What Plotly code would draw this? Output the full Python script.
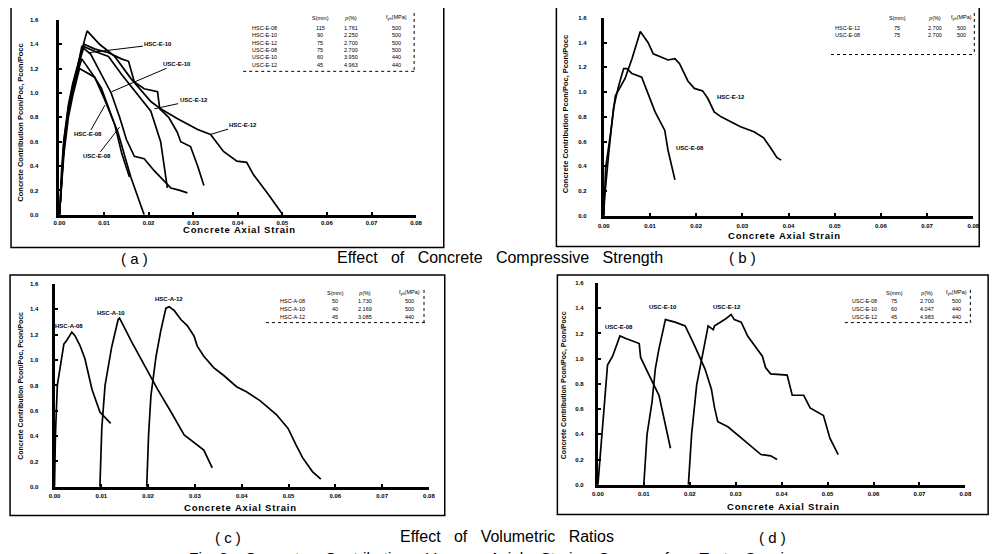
import plotly.graph_objects as go

W, H = 997, 554
OFF = 8  # page body margin offset

# ---------------- data ----------------
x_ticks = [0.00, 0.01, 0.02, 0.03, 0.04, 0.05, 0.06, 0.07, 0.08]
y_ticks = [0.0, 0.2, 0.4, 0.6, 0.8, 1.0, 1.2, 1.4, 1.6]

# (a) Effect of concrete compressive strength
a_c1_x = [0, 0.0005, 0.001, 0.002, 0.003, 0.004, 0.005, 0.0062, 0.009, 0.0124, 0.016, 0.0205, 0.0227, 0.0264, 0.031, 0.0339, 0.0368, 0.0398, 0.042, 0.0435, 0.047, 0.0501]
a_c1_y = [0, 0.38, 0.62, 0.9, 1.08, 1.22, 1.36, 1.51, 1.40, 1.30, 1.12, 0.93, 0.87, 0.79, 0.70, 0.66, 0.52, 0.44, 0.43, 0.33, 0.16, 0.0]
a_c2_x = [0, 0.0005, 0.001, 0.002, 0.003, 0.004, 0.0055, 0.008, 0.011, 0.0139, 0.0155, 0.0168, 0.019, 0.022, 0.0225, 0.0245, 0.0264, 0.0272, 0.0294, 0.031, 0.0324]
a_c2_y = [0, 0.33, 0.58, 0.86, 1.04, 1.2, 1.40, 1.36, 1.33, 1.28, 1.26, 1.09, 1.035, 1.01, 0.87, 0.80, 0.68, 0.60, 0.56, 0.40, 0.24]
a_c3_x = [0, 0.0005, 0.001, 0.002, 0.003, 0.004, 0.005, 0.007, 0.0095, 0.0116, 0.0135, 0.015, 0.0168, 0.019, 0.0213, 0.025, 0.027, 0.0287]
a_c3_y = [0, 0.3, 0.55, 0.84, 1.02, 1.18, 1.38, 1.32, 1.15, 1.0, 0.80, 0.62, 0.48, 0.46, 0.36, 0.22, 0.20, 0.18]
a_c4_x = [0, 0.0005, 0.001, 0.002, 0.003, 0.004, 0.0055, 0.008, 0.011, 0.014, 0.0176, 0.0205, 0.0227, 0.0242]
a_c4_y = [0, 0.36, 0.6, 0.88, 1.06, 1.2, 1.38, 1.34, 1.30, 1.15, 0.98, 0.85, 0.60, 0.22]
a_c5_x = [0, 0.0005, 0.001, 0.002, 0.003, 0.0045, 0.0079, 0.0101, 0.0131, 0.016, 0.0175, 0.019]
a_c5_y = [0, 0.28, 0.5, 0.8, 0.98, 1.20, 1.13, 0.95, 0.68, 0.31, 0.15, 0.0]
a_c6_x = [0, 0.0005, 0.001, 0.002, 0.003, 0.004, 0.005, 0.0075, 0.0094, 0.0124, 0.014, 0.0157]
a_c6_y = [0, 0.32, 0.56, 0.85, 1.02, 1.16, 1.28, 1.15, 1.04, 0.74, 0.50, 0.31]

# (b)
b_hsc12_x = [0, 0.0004, 0.0014, 0.0025, 0.0046, 0.0061, 0.0079, 0.0096, 0.0107, 0.0129, 0.0139, 0.0154, 0.0164, 0.0182, 0.0196, 0.0214, 0.0225, 0.0239, 0.0254, 0.0275, 0.0296, 0.0325, 0.0346, 0.0361, 0.0375, 0.0384]
b_hsc12_y = [0, 0.39, 0.65, 0.97, 1.11, 1.27, 1.49, 1.40, 1.31, 1.28, 1.26, 1.27, 1.23, 1.09, 1.03, 1.01, 0.95, 0.84, 0.80, 0.76, 0.72, 0.68, 0.63, 0.55, 0.47, 0.45]
b_usc08_x = [0, 0.0001, 0.0011, 0.0021, 0.0032, 0.0043, 0.005, 0.0061, 0.0082, 0.0093, 0.0111, 0.0132, 0.0139, 0.0154]
b_usc08_y = [0, 0.12, 0.52, 0.87, 1.05, 1.19, 1.19, 1.15, 1.12, 1.01, 0.84, 0.69, 0.53, 0.29]

# (c) Effect of volumetric ratios
c_a08_x = [0, 0.0002, 0.0006, 0.002, 0.0027, 0.0037, 0.0044, 0.0055, 0.0065, 0.008, 0.0097, 0.0108, 0.012]
c_a08_y = [0, 0.41, 0.80, 1.125, 1.16, 1.22, 1.19, 1.11, 1.01, 0.77, 0.59, 0.55, 0.50]
c_a10_x = [0.0097, 0.0101, 0.0108, 0.0122, 0.0136, 0.0139, 0.0164, 0.0192, 0.022, 0.0249, 0.0277, 0.0319, 0.0337]
c_a10_y = [0, 0.46, 0.80, 1.10, 1.32, 1.33, 1.15, 0.96, 0.77, 0.59, 0.41, 0.29, 0.15]
c_a12_x = [0.0197, 0.0201, 0.0206, 0.0217, 0.0227, 0.0238, 0.0245, 0.0256, 0.027, 0.0284, 0.0298, 0.0305, 0.0319, 0.034, 0.0361, 0.0389, 0.041, 0.0439, 0.0474, 0.0499, 0.0516, 0.053, 0.0551, 0.0569]
c_a12_y = [0, 0.41, 0.72, 1.03, 1.23, 1.41, 1.42, 1.39, 1.32, 1.27, 1.19, 1.11, 1.03, 0.94, 0.88, 0.79, 0.75, 0.68, 0.57, 0.46, 0.33, 0.23, 0.12, 0.06]

# (d)
d_e08_x = [0, 0.0005, 0.0009, 0.0021, 0.0032, 0.0048, 0.0061, 0.009, 0.0093, 0.0104, 0.0118, 0.0133, 0.0143, 0.0154, 0.0158]
d_e08_y = [0, 0.24, 0.40, 0.95, 1.02, 1.18, 1.16, 1.12, 1.01, 0.92, 0.82, 0.71, 0.55, 0.35, 0.29]
d_e10_x = [0.01, 0.0107, 0.0118, 0.0125, 0.0133, 0.014, 0.0147, 0.0168, 0.019, 0.0211, 0.0233, 0.0247, 0.0254, 0.0261, 0.0283, 0.0319, 0.0355, 0.0376, 0.039]
d_e10_y = [0, 0.40, 0.66, 0.92, 1.08, 1.21, 1.31, 1.29, 1.26, 1.10, 0.92, 0.76, 0.61, 0.50, 0.46, 0.35, 0.24, 0.23, 0.20]
d_e12_x = [0.0197, 0.0204, 0.0215, 0.0226, 0.024, 0.0251, 0.0254, 0.0276, 0.0287, 0.029, 0.0297, 0.0312, 0.0326, 0.0347, 0.0358, 0.0365, 0.0376, 0.0412, 0.0423, 0.0448, 0.0462, 0.0491, 0.0505, 0.0516, 0.0523]
d_e12_y = [0, 0.40, 0.79, 1.0, 1.26, 1.23, 1.26, 1.31, 1.34, 1.35, 1.31, 1.29, 1.18, 1.08, 1.02, 0.93, 0.88, 0.87, 0.71, 0.71, 0.61, 0.55, 0.37, 0.29, 0.24]

# tables
tab_header = ["S(mm)", "ρ(%)", "f<sub>yh</sub>(MPa)"]
tab_a_names = ["HSC-E-08", "HSC-E-10", "HSC-E-12", "USC-E-08", "USC-E-10", "USC-E-12"]
tab_a_s = ["115", "90", "75", "75", "60", "45"]
tab_a_r = ["1.761", "2.250", "2.700", "2.700", "3.950", "4.963"]
tab_a_f = ["500", "500", "500", "500", "440", "440"]
tab_b_names = ["HSC-E-12", "USC-E-08"]
tab_b_s = ["75", "75"]
tab_b_r = ["2.700", "2.700"]
tab_b_f = ["500", "500"]
tab_c_names = ["HSC-A-08", "HSC-A-10", "HSC-A-12"]
tab_c_s = ["50", "40", "45"]
tab_c_r = ["1.730", "2.169", "3.085"]
tab_c_f = ["500", "500", "440"]
tab_d_names = ["USC-E-08", "USC-E-10", "USC-E-12"]
tab_d_s = ["75", "60", "45"]
tab_d_r = ["2.700", "4.047", "4.983"]
tab_d_f = ["500", "440", "440"]

# ---------------- figure ----------------
def fx(p):
    return (p - OFF) / W

def fy(p):
    return 1 - (p - OFF) / H

FONT = "Liberation Sans"
HS = "\u200a"  # hair space for letter-spaced axis titles
fig = go.Figure()

panels = [
    # suffix, x0, x1, ytop, ybot, ylabel standoff, xlabel standoff
    ("", 54, 415, 17, 214, 17, 0),
    ("2", 605, 979, 15, 215, 13, 2),
    ("3", 49, 428, 284, 489, 12, 1),
    ("4", 599, 971, 283, 487, 10, 1),
]
layout_axes = {}
for suf, x0, x1, yt, yb, ys, xs in panels:
    layout_axes["xaxis" + suf] = dict(
        domain=[fx(x0), fx(x1)], range=[0, 0.08], anchor="y" + suf,
        tickvals=x_ticks, ticktext=["%.2f" % v for v in x_ticks],
        showgrid=False, zeroline=False, showline=True, linecolor="black", linewidth=2.5,
        ticks="inside", ticklen=3, tickwidth=1.5, tickcolor="black",
        tickfont=dict(family=FONT, size=6, color="black", weight="bold"),
        ticklabelstandoff=xs,
    )
    layout_axes["yaxis" + suf] = dict(
        domain=[fy(yb), fy(yt)], range=[0, 1.6], anchor="x" + suf,
        tickvals=y_ticks, ticktext=["%.1f" % v for v in y_ticks],
        showgrid=False, zeroline=False, showline=True, linecolor="black", linewidth=3,
        ticks="inside", ticklen=3, tickwidth=1.5, tickcolor="black",
        tickfont=dict(family=FONT, size=6, color="black", weight="bold"),
        ticklabelstandoff=ys,
    )

curves = [
    ("", a_c1_x, a_c1_y), ("", a_c2_x, a_c2_y), ("", a_c3_x, a_c3_y),
    ("", a_c4_x, a_c4_y), ("", a_c5_x, a_c5_y), ("", a_c6_x, a_c6_y),
    ("2", b_hsc12_x, b_hsc12_y), ("2", b_usc08_x, b_usc08_y),
    ("3", c_a08_x, c_a08_y), ("3", c_a10_x, c_a10_y), ("3", c_a12_x, c_a12_y),
    ("4", d_e08_x, d_e08_y), ("4", d_e10_x, d_e10_y), ("4", d_e12_x, d_e12_y),
]
for suf, xs_, ys_ in curves:
    fig.add_trace(go.Scatter(x=xs_, y=ys_, mode="lines", xaxis="x" + suf, yaxis="y" + suf,
                             line=dict(color="black", width=1.7), showlegend=False, hoverinfo="skip"))

ann = []
shapes = []

def ptext(x, y, text, font, **kw):
    ann.append(dict(xref="paper", yref="paper", x=fx(x), y=fy(y), text=text, showarrow=False,
                    xanchor="center", yanchor="middle", font=font, **kw))

# panel borders
for x0, y0, x1, y1 in [(5, 4, 443, 247), (557, 3, 985, 246), (4, 275, 444, 518), (558, 275, 994, 517)]:
    shapes.append(dict(type="rect", xref="paper", yref="paper", x0=fx(x0), x1=fx(x1), y0=fy(y1), y1=fy(y0),
                       line=dict(color="black", width=1.5)))

# axis titles
xtitle = HS.join("Concrete Axial Strain")
ytitle = "Concrete Contribution Pcon/Poc, Pcon/Pocc"
for cx, cy, tx, ty, ysz in [(236, 229, 15, 121, 7.5), (787, 235, 567, 112, 7.5),
                            (237, 510, 15, 387, 7), (786, 509, 565, 386, 7)]:
    ptext(cx, cy, xtitle, dict(family=FONT, size=9.5, color="black", weight="bold"))
    ptext(tx, ty, ytitle, dict(family=FONT, size=ysz, color="black", weight="bold"), textangle=-90)

# curve labels
lab_font = dict(family=FONT, size=6, color="black", weight="bold")
def leader(suf, tx, ty, px_, py_, text):
    ann.append(dict(xref="x" + suf, yref="y" + suf, axref="x" + suf, ayref="y" + suf,
                    x=px_, y=py_, ax=tx, ay=ty, text=text, showarrow=True, arrowhead=0,
                    arrowwidth=1, arrowcolor="black", font=lab_font))

def label(suf, tx, ty, text):
    ann.append(dict(xref="x" + suf, yref="y" + suf, x=tx, y=ty, text=text, showarrow=False,
                    xanchor="center", yanchor="middle", font=lab_font))

leader("", 0.0222, 1.40, 0.0064, 1.33, "HSC-E-10")
leader("", 0.0264, 1.24, 0.0117, 1.01, "USC-E-10")
leader("", 0.0301, 0.94, 0.0213, 0.87, "USC-E-12")
leader("", 0.0412, 0.74, 0.0339, 0.66, "HSC-E-12")
leader("", 0.0065, 0.66, 0.0102, 0.90, "HSC-E-08")
leader("", 0.0084, 0.48, 0.0135, 0.72, "USC-E-08")
label("2", 0.0276, 0.96, "HSC-E-12")
label("2", 0.0186, 0.55, "USC-E-08")
label("3", 0.0030, 1.27, "HSC-A-08")
label("3", 0.0120, 1.375, "HSC-A-10")
label("3", 0.0245, 1.48, "HSC-A-12")
label("4", 0.0045, 1.25, "USC-E-08")
label("4", 0.0142, 1.41, "USC-E-10")
label("4", 0.0282, 1.41, "USC-E-12")

# tables
tfont = dict(family=FONT, size=5.5, color="black")
def table(names, s, r, f, xn, xs_, xr, xf, yh, y_rows, lx0, lx1, ly, vx, vy0):
    for txt, xx in zip(tab_header, [xs_, xr, xf]):
        ptext(xx, yh, txt, tfont)
    for i, yy in enumerate(y_rows):
        ptext(xn, yy, names[i], tfont)
        ptext(xs_, yy, s[i], tfont)
        ptext(xr, yy, r[i], tfont)
        ptext(xf, yy, f[i], tfont)
    shapes.append(dict(type="line", xref="paper", yref="paper", x0=fx(lx0), x1=fx(lx1), y0=fy(ly), y1=fy(ly),
                       line=dict(color="black", width=1, dash="dot")))
    shapes.append(dict(type="line", xref="paper", yref="paper", x0=fx(vx), x1=fx(vx), y0=fy(vy0), y1=fy(ly),
                       line=dict(color="black", width=1, dash="dot")))

table(tab_a_names, tab_a_s, tab_a_r, tab_a_f, 262, 318, 349, 395, 15, [25, 32.5, 40, 47.5, 55, 62.5], 240, 414, 69, 413, 10)
table(tab_b_names, tab_b_s, tab_b_r, tab_b_f, 852, 902, 940, 967, 15, [25, 32], 835, 981, 52, 980, 10)
table(tab_c_names, tab_c_s, tab_c_r, tab_c_f, 290, 333, 363, 408, 293, [301, 309, 317], 263, 424, 323, 423, 290)
table(tab_d_names, tab_d_s, tab_d_r, tab_d_f, 869, 899, 932, 962, 293, [301, 309, 317], 849, 977, 323, 976, 290)

# captions
for txt, cx, cy, sz in [("( a )", 130, 258, 15), ("Effect   of   Concrete   Compressive   Strength", 500, 257, 16),
                        ("( b )", 745, 257, 15),
                        ("( c )", 225, 540, 15), ("Effect   of   Volumetric   Ratios", 507, 539, 16), ("( d )", 776, 540, 15),
                        ("Fig. 3    Concrete    Contribution    Versus    Axial    Strain    Curves    for    Test    Specimens", 505, 560, 15.5)]:
    ptext(cx, cy, txt, dict(family=FONT, size=sz, color="black"))

fig.update_layout(width=W, height=H, margin=dict(l=0, r=0, t=0, b=0), paper_bgcolor="white",
                  plot_bgcolor="white", annotations=ann, shapes=shapes, **layout_axes)
fig.write_html("out.html")
